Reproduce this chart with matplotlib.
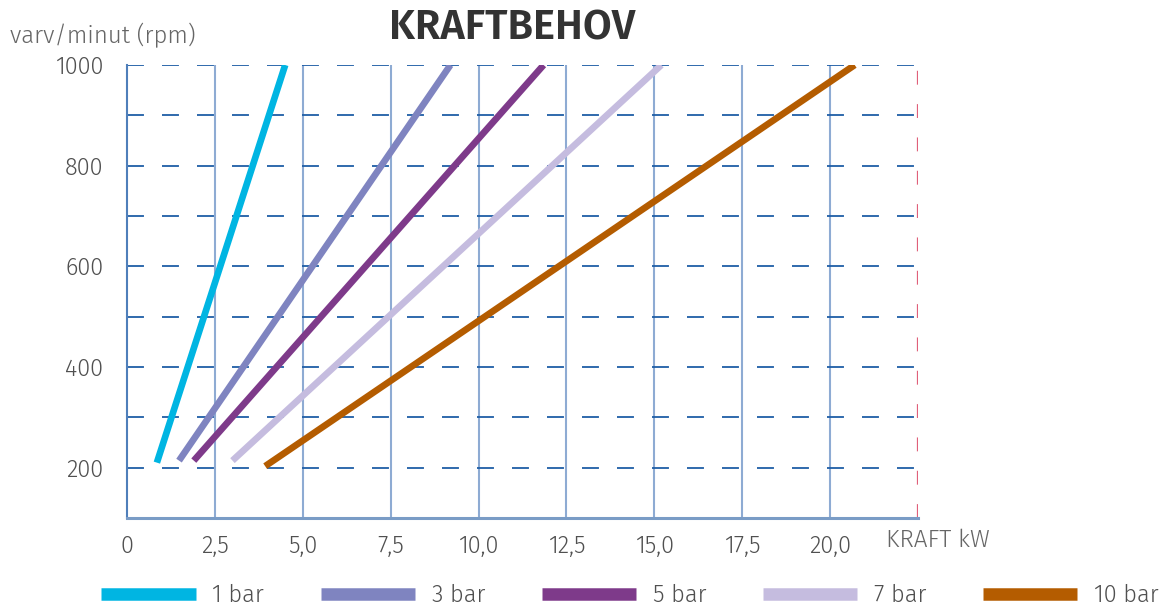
import matplotlib
matplotlib.use("Agg")
import matplotlib.pyplot as plt

plt.rcParams['lines.scale_dashes'] = False
plt.rcParams['font.family'] = ['Fira Sans', 'Lato', 'DejaVu Sans']
plt.rcParams['font.weight'] = 300

# ---- data ----
series_labels = ["1 bar", "3 bar", "5 bar", "7 bar", "10 bar"]
series_colors = ["#00b5e2", "#7f84c0", "#7e3a8a", "#c5bcdf", "#b45c00"]
power_start = [0.85, 1.48, 1.9, 3.0, 3.93]
power_end = [4.5, 9.2, 11.85, 15.2, 20.7]
rpm_start = [210, 214, 214, 214, 203]
rpm_end = [1000, 1000, 1000, 1000, 1000]

x_ticks = [0, 2.5, 5.0, 7.5, 10.0, 12.5, 15.0, 17.5, 20.0]
x_tick_labels = ["0", "2,5", "5,0", "7,5", "10,0", "12,5", "15,0", "17,5", "20,0"]
y_ticks = [200, 400, 600, 800, 1000]
y_tick_labels = ["200", "400", "600", "800", "1000"]
y_grid = [200, 300, 400, 500, 600, 700, 800, 900, 1000]
x_max = 22.5

TXT = "#505050"

fig = plt.figure(figsize=(11.68, 6.09), dpi=100)
ax = fig.add_axes([127/1168, 1-518/609, (918-127)/1168, (518-65)/609])
ax.set_xlim(0, x_max)
ax.set_ylim(100, 1000)

# grid
for xv in x_ticks[1:]:
    ax.axvline(xv, color="#8eabd3", lw=1.5, zorder=1)
for yv in y_grid:
    ax.axhline(yv, color="#1f5ea6", lw=1.3, ls=(0, (12.2, 13.0)), zorder=1)
ax.axvline(x_max, color="#e0607a", lw=1.6, ls=(0, (10, 14)), zorder=1)

# data lines
for lab, c, x0, x1, y0, y1 in zip(series_labels, series_colors, power_start, power_end, rpm_start, rpm_end):
    ax.plot([x0, x1], [y0, y1], color=c, lw=4.8, solid_capstyle='butt', label=lab, zorder=3)

for s in ["top", "right"]:
    ax.spines[s].set_visible(False)
ax.spines["left"].set_color("#4f7fba")
ax.spines["left"].set_linewidth(1.5)
ax.spines["bottom"].set_color("#7a9cc6")
ax.spines["bottom"].set_linewidth(2.2)

ax.set_xticks(x_ticks)
ax.set_xticklabels(x_tick_labels)
ax.set_yticks(y_ticks)
ax.set_yticklabels(y_tick_labels)
ax.tick_params(length=0, labelsize=17, labelcolor=TXT)
ax.tick_params(axis='y', pad=17)
ax.tick_params(axis='x', pad=12)

fig.text(512/1168, 1-28/609, "KRAFTBEHOV", ha="center", va="center", fontsize=30,
         fontweight=600, color="#333333")
fig.text(10/1168, 1-35/609, "varv/minut (rpm)", ha="left", va="center", fontsize=17.3,
         color="#666666")
fig.text(886/1168, 1-540/609, "KRAFT kW", ha="left", va="center", fontsize=17.5,
         color="#666666")

leg = fig.legend(loc="center", bbox_to_anchor=(630/1168, 1-595/609), ncol=5, frameon=False,
                 fontsize=17, handlelength=4.0, handletextpad=0.7, columnspacing=2.4)
for line in leg.get_lines():
    line.set_linewidth(9)
for t in leg.get_texts():
    t.set_color(TXT)

fig.savefig("out.png", dpi=100)
